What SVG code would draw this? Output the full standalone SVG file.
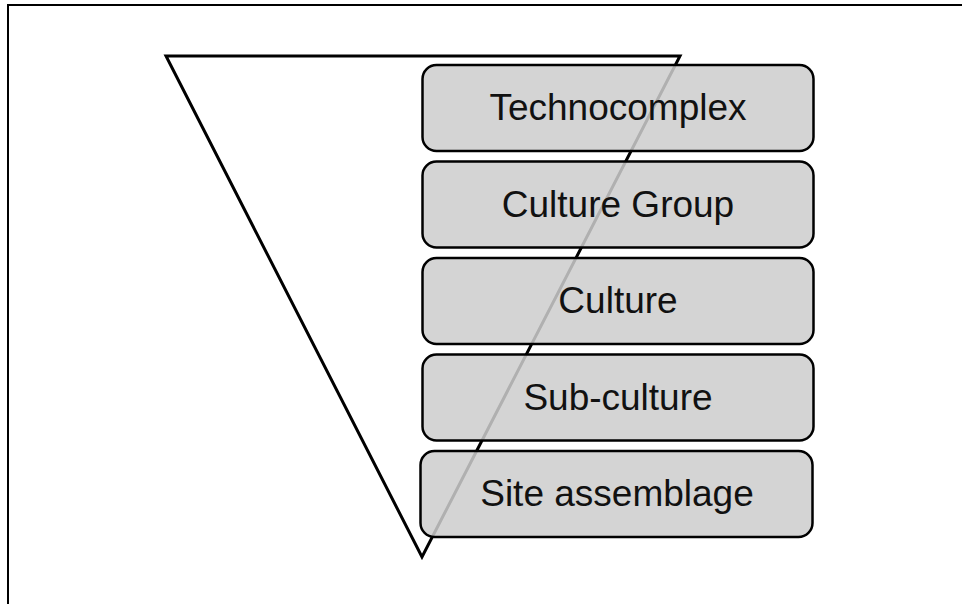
<svg xmlns="http://www.w3.org/2000/svg" width="962" height="604" viewBox="0 0 962 604">
  <style>
    .frame { fill: none; stroke: #000; stroke-width: 2; }
    .funnel { fill: none; stroke: #000; stroke-width: 3; stroke-linejoin: miter; }
    .box { fill: #cdcdcd; fill-opacity: 0.86; stroke: #000; stroke-width: 2.5; }
    .label { font-family: "Liberation Sans", Arial, sans-serif; font-size: 37px; fill: #111; text-anchor: middle; }
  </style>
  <rect width="962" height="604" fill="#fff"/>
  <!-- page frame, running off the right and bottom edges -->
  <rect class="frame" x="8" y="5" width="1000" height="700"/>
  <!-- inverted funnel behind the levels -->
  <g id="funnel">
    <polygon class="funnel" points="166,56 680,56 422,557"/>
  </g>
  <g id="connectors"></g>
  <g id="technocomplex">
    <rect class="box" x="422.5" y="65" width="391" height="86" rx="14"/>
    <text class="label" x="618" y="120">Technocomplex</text>
  </g>
  <g id="culture-group">
    <rect class="box" x="422.5" y="161.5" width="391" height="86" rx="14"/>
    <text class="label" x="618" y="216.5">Culture Group</text>
  </g>
  <g id="culture">
    <rect class="box" x="422.5" y="258" width="391" height="86" rx="14"/>
    <text class="label" x="618" y="313">Culture</text>
  </g>
  <g id="sub-culture">
    <rect class="box" x="422.5" y="354.5" width="391" height="86" rx="14"/>
    <text class="label" x="618" y="409.5">Sub-culture</text>
  </g>
  <g id="site-assemblage">
    <rect class="box" x="420.5" y="451" width="392" height="86" rx="14"/>
    <text class="label" x="617" y="506">Site assemblage</text>
  </g>
</svg>
